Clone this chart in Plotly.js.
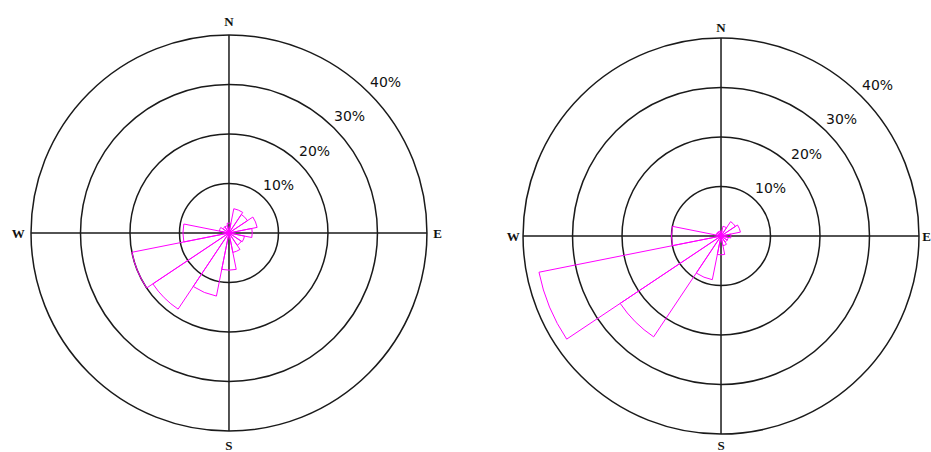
<!DOCTYPE html>
<html>
<head>
<meta charset="utf-8">
<script src="https://cdn.plot.ly/plotly-3.0.1.min.js"></script>
<style>html,body{margin:0;padding:0;background:#fff;}#chart{width:931px;height:452px;}</style>
</head>
<body>
<div id="chart"></div>
<script>
// 16 compass directions (degrees clockwise from North)
const directions = [0, 22.5, 45, 67.5, 90, 112.5, 135, 157.5, 180, 202.5, 225, 247.5, 270, 292.5, 315, 337.5];
const directionNames = ["N","NNE","NE","ENE","E","ESE","SE","SSE","S","SSW","SW","WSW","W","WNW","NW","NNW"];
// Frequency (%) per direction
const freqLeft  = [2, 5, 4.5, 5.8, 4.7, 3.2, 3, 4, 7.5, 13, 18.5, 20, 9.3, 2, 1.5, 1.5];
const freqRight = [1, 2, 3.5, 4, 2, 1.5, 1.5, 2, 3.8, 9, 24.5, 37.5, 10, 1, 1, 1];
// Axis labels
const compassVals = [0, 90, 180, 270];
const compassText = ["N", "E", "S", "W"];
const ringVals = [10, 20, 30, 40];
const ringText = ["10%", "20%", "30%", "40%"];
const rMax = 40;

const W = 931, H = 452;
const domLeft  = { x: [0.0333, 0.4586], y: [0.0465, 0.9226] };
const domRight = { x: [0.5618, 0.9871], y: [0.0398, 0.9159] };
const ringLabelBearing = 46;  // degrees clockwise from North
const ringLabelOffset = 3.9;  // in % units, just outside each ring

function rose(values, subplot) {
  return {
    type: "barpolar",
    r: values,
    theta: directions,
    text: directionNames,
    width: directions.map(() => 22.5),
    subplot: subplot,
    marker: { color: "rgba(0,0,0,0)", line: { color: "#ff00ff", width: 1 } },
    showlegend: false,
    hoverinfo: "text+r"
  };
}

// ring labels positioned from the same polar geometry (center + radius of the domain)
function ringAnnotations(dom) {
  const wpx = (dom.x[1] - dom.x[0]) * W, hpx = (dom.y[1] - dom.y[0]) * H;
  const R = Math.min(wpx, hpx) / 2;
  const cx = (dom.x[0] + dom.x[1]) / 2 * W;
  const cy = (dom.y[0] + dom.y[1]) / 2 * H; // from bottom
  const a = ringLabelBearing * Math.PI / 180;
  return ringVals.map((v, i) => {
    const rp = (v + ringLabelOffset) / rMax * R;
    return {
      xref: "paper", yref: "paper",
      x: (cx + rp * Math.sin(a)) / W,
      y: (cy + rp * Math.cos(a)) / H,
      text: ringText[i],
      showarrow: false,
      xanchor: "center", yanchor: "middle",
      font: { family: "DejaVu Sans", size: 14, color: "#111" }
    };
  });
}

function polar(dom, labelGap) {
  return {
    domain: dom,
    bgcolor: "rgba(0,0,0,0)",
    angularaxis: {
      direction: "clockwise",
      rotation: 90,
      tickmode: "array",
      tickvals: compassVals,
      ticktext: compassText,
      ticks: labelGap > 0 ? "outside" : "",
      ticklen: labelGap,
      tickcolor: "rgba(0,0,0,0)",
      showline: true,
      linecolor: "#1a1a1a",
      linewidth: 1.5,
      showgrid: true,
      gridcolor: "#1a1a1a",
      gridwidth: 1.5,
      tickfont: { family: "Liberation Serif", size: 13, color: "#111", weight: "bold" }
    },
    radialaxis: {
      range: [0, rMax],
      angle: 45,
      tickmode: "array",
      tickvals: ringVals,
      showticklabels: false,
      ticks: "",
      showline: false,
      showgrid: true,
      gridcolor: "#1a1a1a",
      gridwidth: 1.5
    }
  };
}

const data = [rose(freqLeft, "polar"), rose(freqRight, "polar2")];
const layout = {
  width: W,
  height: H,
  margin: { l: 0, r: 0, t: 0, b: 0 },
  paper_bgcolor: "#fff",
  polar: polar(domLeft, 3),
  polar2: polar(domRight, 0),
  annotations: ringAnnotations(domLeft).concat(ringAnnotations(domRight))
};
Plotly.newPlot("chart", data, layout, { displayModeBar: false, staticPlot: true });
</script>
</body>
</html>
